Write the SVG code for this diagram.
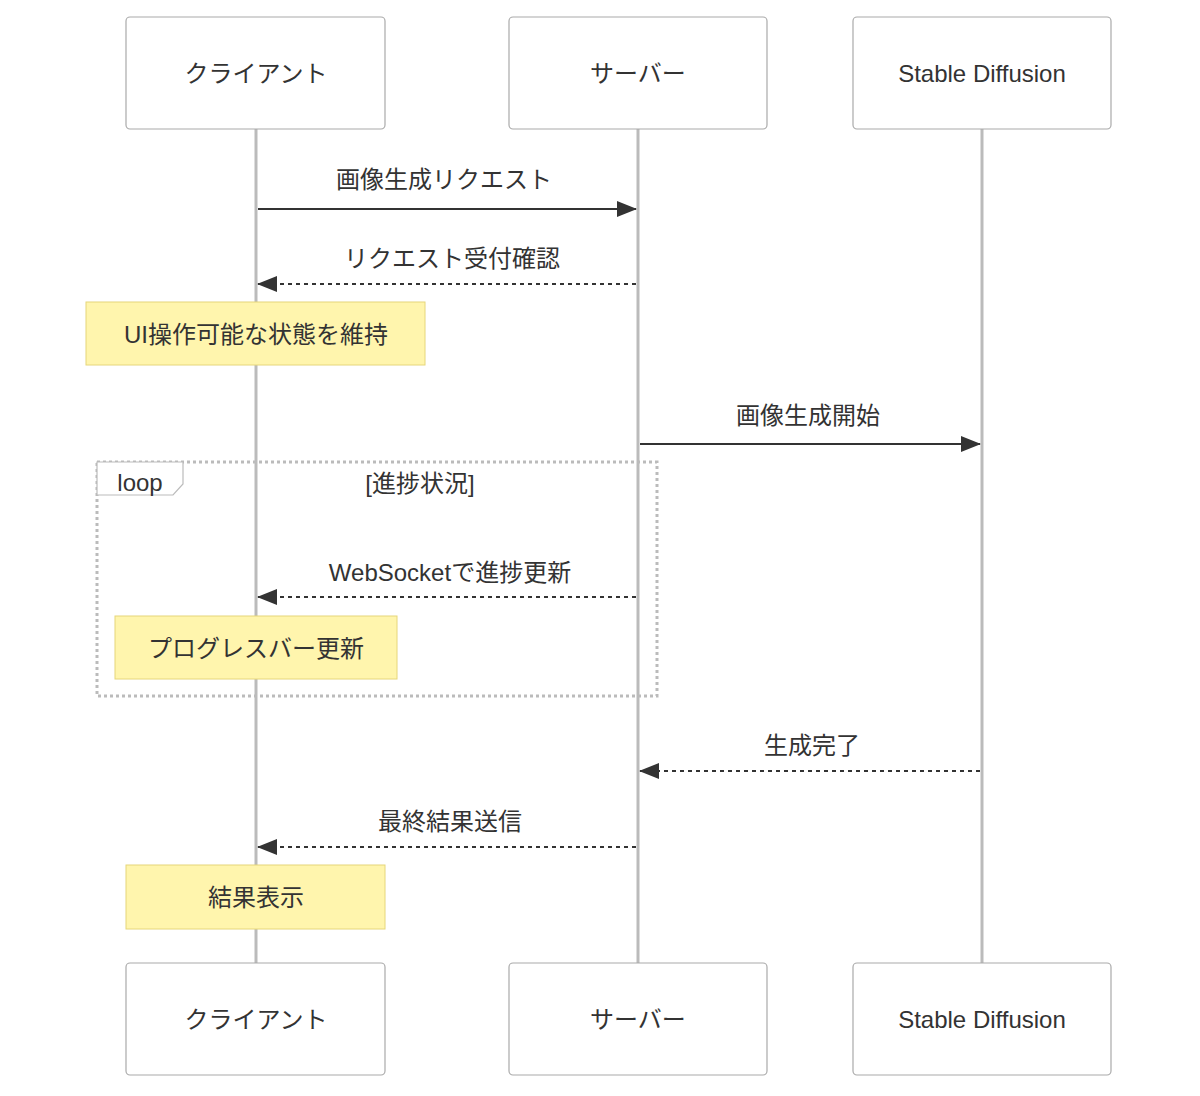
<svg xmlns="http://www.w3.org/2000/svg" width="1200" height="1096" viewBox="0 0 1200 1096">
<style>
text{font-family:"Liberation Sans","Noto Sans CJK JP",sans-serif;fill:#333;text-anchor:middle;dominant-baseline:central}
.actor{fill:#fff;stroke:#aaa;stroke-width:1.2}
.life{stroke:#bbb;stroke-width:3}
.note{fill:#fff5ad;stroke:#e6d67a;stroke-width:1}
.msg{stroke:#333;stroke-width:2;fill:none}
.dash{stroke-dasharray:4 4}
.t{font-size:24px}
</style>
<defs><marker id="ah" viewBox="0 0 20 16" refX="19" refY="8" markerWidth="20" markerHeight="16" markerUnits="userSpaceOnUse" orient="auto"><path d="M0,0L20,8L0,16z" fill="#333"/></marker></defs>
<g id="lifelines">
<line class="life" x1="256" y1="128" x2="256" y2="964"/>
<line class="life" x1="638" y1="128" x2="638" y2="964"/>
<line class="life" x1="982" y1="128" x2="982" y2="964"/>
</g>
<g id="a1"><rect class="actor" x="126" y="17" width="259" height="112" rx="4"/><text class="t" x="256" y="73">クライアント</text></g>
<g id="a2"><rect class="actor" x="509" y="17" width="258" height="112" rx="4"/><text class="t" x="638" y="73">サーバー</text></g>
<g id="a3"><rect class="actor" x="853" y="17" width="258" height="112" rx="4"/><text class="t" x="982" y="73">Stable Diffusion</text></g>
<g id="a1b"><rect class="actor" x="126" y="963" width="259" height="112" rx="4"/><text class="t" x="256" y="1019">クライアント</text></g>
<g id="a2b"><rect class="actor" x="509" y="963" width="258" height="112" rx="4"/><text class="t" x="638" y="1019">サーバー</text></g>
<g id="a3b"><rect class="actor" x="853" y="963" width="258" height="112" rx="4"/><text class="t" x="982" y="1019">Stable Diffusion</text></g>
<g id="loop">
<rect x="97" y="462" width="560" height="234" fill="none" stroke="#bbb" stroke-width="3" stroke-dasharray="3 3"/>
<path d="M97,462H183V484L173,495H97z" fill="#fff" stroke="#bbb" stroke-width="1.2"/>
<text class="t" x="140" y="482">loop</text>
<text class="t" x="420" y="483">[進捗状況]</text>
</g>
<g id="notes">
<g id="n1"><rect class="note" x="86" y="302" width="339" height="63"/><text class="t" x="256" y="334">UI操作可能な状態を維持</text></g>
<g id="n2"><rect class="note" x="115" y="616" width="282" height="63"/><text class="t" x="256" y="648">プログレスバー更新</text></g>
<g id="n3"><rect class="note" x="126" y="865" width="259" height="64"/><text class="t" x="256" y="897">結果表示</text></g>
</g>
<g id="connectors">
<line class="msg" x1="258" y1="209" x2="636" y2="209" marker-end="url(#ah)"/>
<text class="t" x="444" y="179">画像生成リクエスト</text>
<line class="msg dash" x1="636" y1="284" x2="258" y2="284" marker-end="url(#ah)"/>
<text class="t" x="452" y="258">リクエスト受付確認</text>
<line class="msg" x1="640" y1="444" x2="980" y2="444" marker-end="url(#ah)"/>
<text class="t" x="808" y="415">画像生成開始</text>
<line class="msg dash" x1="636" y1="597" x2="258" y2="597" marker-end="url(#ah)"/>
<text class="t" x="450" y="572">WebSocketで進捗更新</text>
<line class="msg dash" x1="980" y1="771" x2="640" y2="771" marker-end="url(#ah)"/>
<text class="t" x="812" y="745">生成完了</text>
<line class="msg dash" x1="636" y1="847" x2="258" y2="847" marker-end="url(#ah)"/>
<text class="t" x="450" y="821">最終結果送信</text>
</g>
</svg>
